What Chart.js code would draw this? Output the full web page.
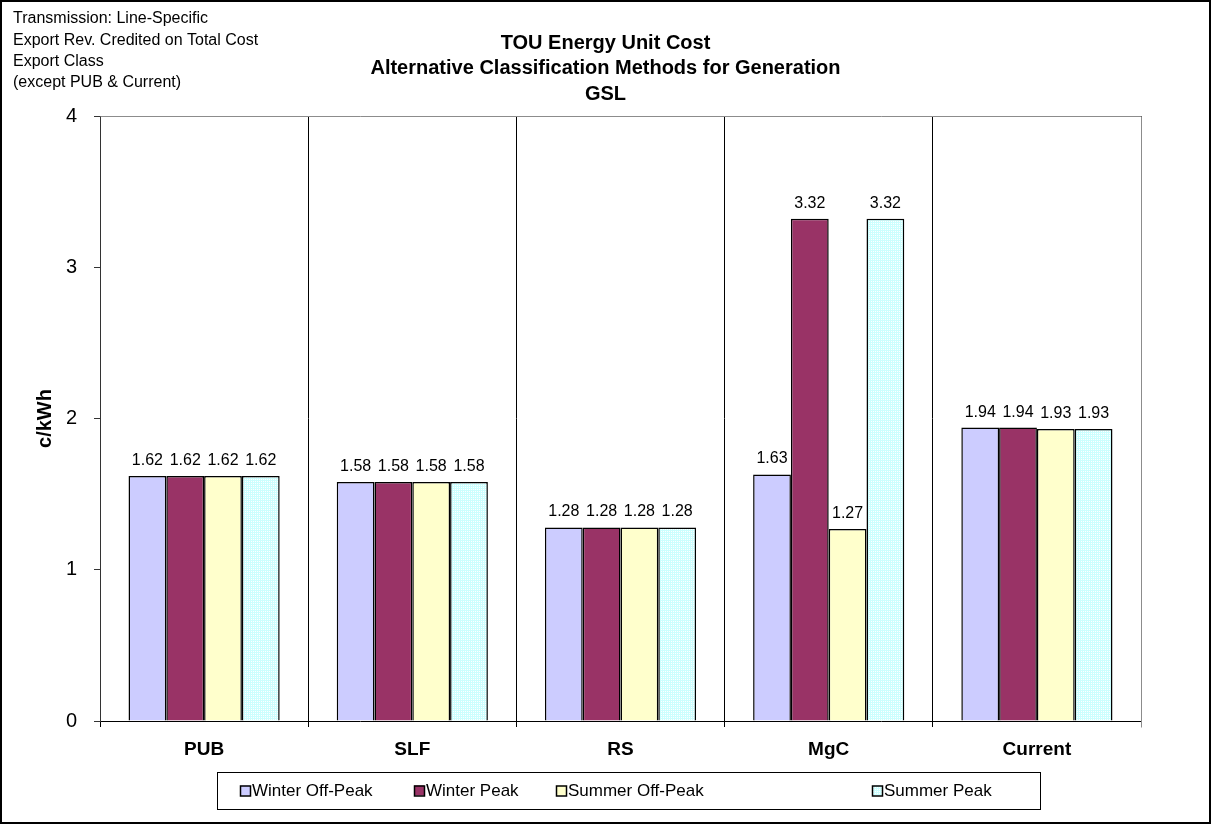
<!DOCTYPE html>
<html>
<head>
<meta charset="utf-8">
<script src="https://cdn.jsdelivr.net/npm/chart.js@4/dist/chart.umd.min.js"></script>
<style>
  html, body { margin: 0; padding: 0; background: #fff; }
  canvas { display: block; }
</style>
</head>
<body>
<canvas id="c" width="1211" height="824"></canvas>
<script>
// ---- data ----
const categories = ['PUB', 'SLF', 'RS', 'MgC', 'Current'];
const winterOffPeak = [1.62, 1.58, 1.28, 1.63, 1.94];
const winterPeak = [1.62, 1.58, 1.28, 3.32, 1.94];
const summerOffPeak = [1.62, 1.58, 1.28, 1.27, 1.93];
const summerPeak = [1.62, 1.58, 1.28, 3.32, 1.93];
const seriesNames = ['Winter Off-Peak', 'Winter Peak', 'Summer Off-Peak', 'Summer Peak'];
const yTicks = [0, 1, 2, 3, 4];
const titleLines = ['TOU Energy Unit Cost', 'Alternative Classification Methods for Generation', 'GSL'];
const noteLines = ['Transmission: Line-Specific', 'Export Rev. Credited on Total Cost', 'Export Class', '(except PUB & Current)'];
const yTitle = 'c/kWh';

// ---- styles ----
const FONT = '"Liberation Sans", Arial, Helvetica, sans-serif';

function makeMesh() {
  const p = document.createElement('canvas');
  p.width = 2; p.height = 2;
  const g = p.getContext('2d');
  g.fillStyle = '#ccffff';
  g.fillRect(0, 0, 2, 2);
  g.fillStyle = '#ffffff';
  g.fillRect(1, 1, 1, 1);
  return document.getElementById('c').getContext('2d').createPattern(p, 'repeat');
}
const mesh = makeMesh();
const colors = ['#CCCCFF', '#993366', '#FFFFCC', mesh];

const seriesData = [winterOffPeak, winterPeak, summerOffPeak, summerPeak];

const decorPlugin = {
  id: 'decor',
  beforeDraw(chart) {
    const ctx = chart.ctx;
    ctx.save();
    ctx.fillStyle = '#fff';
    ctx.fillRect(0, 0, chart.width, chart.height);
    ctx.restore();
  },
  afterDatasetsDraw(chart) {
    const ctx = chart.ctx;
    const area = chart.chartArea;
    ctx.save();
    // value labels
    ctx.fillStyle = '#000';
    ctx.font = '16px ' + FONT;
    ctx.textAlign = 'center';
    ctx.textBaseline = 'alphabetic';
    chart.data.datasets.forEach((ds, i) => {
      const meta = chart.getDatasetMeta(i);
      meta.data.forEach((el, j) => {
        ctx.fillText(ds.data[j].toFixed(2), el.x, el.y - 11);
      });
    });
    // gray top/right plot border
    ctx.strokeStyle = '#8c8c8c';
    ctx.lineWidth = 1;
    ctx.beginPath();
    ctx.moveTo(Math.round(area.left) + 0.5, Math.round(area.top) + 0.5);
    ctx.lineTo(Math.round(area.right) + 0.5, Math.round(area.top) + 0.5);
    ctx.lineTo(Math.round(area.right) + 0.5, Math.round(area.bottom) + 6.5);
    ctx.stroke();
    ctx.restore();
  },
  afterDraw(chart) {
    const ctx = chart.ctx;
    const W = chart.width, H = chart.height;
    ctx.save();
    // titles
    ctx.fillStyle = '#000';
    ctx.textAlign = 'center';
    ctx.textBaseline = 'middle';
    ctx.font = 'bold 20px ' + FONT;
    titleLines.forEach((t, i) => ctx.fillText(t, W / 2, 43 + i * 25.5));
    // note top-left
    ctx.textAlign = 'left';
    ctx.font = '16px ' + FONT;
    noteLines.forEach((t, i) => ctx.fillText(t, 13, 19 + i * 21.3));
    // legend
    const lx = 217, ly = 772, lw = 823, lh = 37;
    ctx.strokeStyle = '#000';
    ctx.lineWidth = 1;
    ctx.strokeRect(lx + 0.5, ly + 0.5, lw, lh);
    const itemX = [240, 414, 556, 872];
    ctx.font = '17px ' + FONT;
    const cy = ly + lh / 2 + 1;
    seriesNames.forEach((name, i) => {
      const x = itemX[i];
      ctx.fillStyle = colors[i];
      ctx.fillRect(x, cy - 6, 10, 10);
      ctx.strokeStyle = '#000';
      ctx.lineWidth = 1.5;
      ctx.strokeRect(x + 0.5, cy - 6 + 0.5, 10, 10);
      ctx.fillStyle = '#000';
      ctx.fillText(name, x + 12, cy);
    });
    // outer border
    ctx.lineWidth = 2;
    ctx.strokeStyle = '#000';
    ctx.strokeRect(1, 1, W - 2, H - 2);
    ctx.restore();
  }
};

new Chart(document.getElementById('c'), {
  type: 'bar',
  data: {
    labels: categories,
    datasets: seriesNames.map((n, i) => ({
      label: n,
      data: seriesData[i],
      backgroundColor: colors[i],
      borderColor: '#000',
      borderWidth: 1.5,
      borderSkipped: 'bottom',
      categoryPercentage: 0.726,
      barPercentage: 1.0
    }))
  },
  options: {
    responsive: false,
    animation: false,
    layout: { padding: { top: 116, left: 0, right: 70, bottom: 0 } },
    plugins: {
      legend: { display: false },
      title: { display: false },
      tooltip: { enabled: false }
    },
    scales: {
      x: {
        offset: true,
        grid: {
          offset: true,
          display: true,
          drawOnChartArea: true,
          drawTicks: true,
          tickLength: 6,
          color: '#000',
          lineWidth: 1
        },
        border: { display: true, color: '#000', width: 1 },
        ticks: {
          color: '#000',
          font: { family: FONT, size: 19, weight: 'bold' },
          padding: 11,
          maxRotation: 0
        },
        afterFit(scale) { scale.height = 103; }
      },
      y: {
        min: 0,
        max: 4,
        afterBuildTicks(scale) { scale.ticks = yTicks.map(v => ({ value: v })); },
        grid: {
          display: true,
          drawOnChartArea: false,
          drawTicks: true,
          tickLength: 6,
          color: '#333'
        },
        border: { display: true, color: '#333', width: 1 },
        ticks: {
          color: '#000',
          font: { family: FONT, size: 20 },
          padding: 17
        },
        title: {
          display: true,
          text: yTitle,
          color: '#000',
          font: { family: FONT, size: 20, weight: 'bold' },
          padding: { top: 33, bottom: 0 }
        },
        afterFit(scale) { scale.width = 100; }
      }
    }
  },
  plugins: [decorPlugin]
});
</script>
</body>
</html>
